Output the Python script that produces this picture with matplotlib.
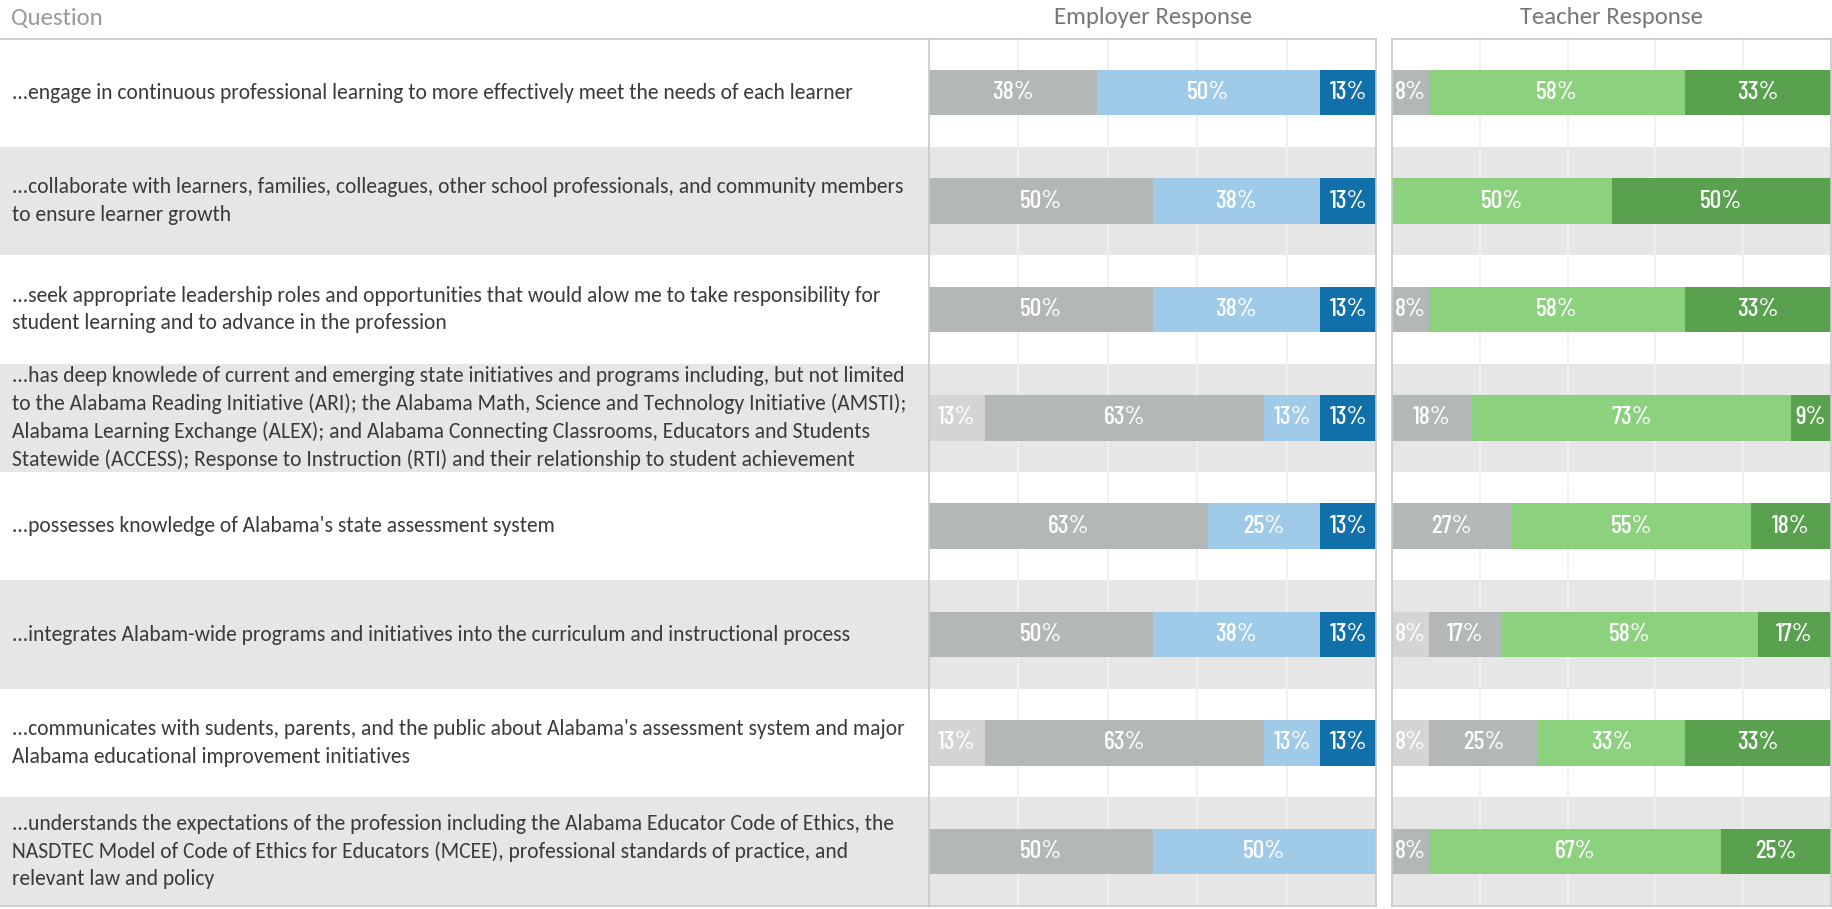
import matplotlib
matplotlib.use('Agg')
import matplotlib.pyplot as plt

# question texts, wrapped like the original
questions = [
    '...engage in continuous professional learning to more effectively meet the needs of each learner',
    '...collaborate with learners, families, colleagues, other school professionals, and community members\nto ensure learner growth',
    '...seek appropriate leadership roles and opportunities that would alow me to take responsibility for\nstudent learning and to advance in the profession',
    '...has deep knowlede of current and emerging state initiatives and programs including, but not limited\nto the Alabama Reading Initiative (ARI); the Alabama Math, Science and Technology Initiative (AMSTI);\nAlabama Learning Exchange (ALEX); and Alabama Connecting Classrooms, Educators and Students\nStatewide (ACCESS); Response to Instruction (RTI) and their relationship to student achievement',
    '...possesses knowledge of Alabama\'s state assessment system',
    '...integrates Alabam-wide programs and initiatives into the curriculum and instructional process',
    '...communicates with sudents, parents, and the public about Alabama\'s assessment system and major\nAlabama educational improvement initiatives',
    '...understands the expectations of the profession including the Alabama Educator Code of Ethics, the\nNASDTEC Model of Code of Ethics for Educators (MCEE), professional standards of practice, and\nrelevant law and policy',
]

# employer response, percent per level
emp_strongly_disagree = [0, 0, 0, 12.5, 0, 0, 12.5, 0]
emp_disagree = [37.5, 50, 50, 62.5, 62.5, 50, 62.5, 50]
emp_agree = [50, 37.5, 37.5, 12.5, 25, 37.5, 12.5, 50]
emp_strongly_agree = [12.5, 12.5, 12.5, 12.5, 12.5, 12.5, 12.5, 0]

# teacher response, percent per level
tch_strongly_disagree = [0, 0, 0, 0, 0, 8.33, 8.33, 0]
tch_disagree = [8.33, 0, 8.33, 18.18, 27.27, 16.67, 25, 8.33]
tch_agree = [58.33, 50, 58.33, 72.73, 54.55, 58.33, 33.33, 66.67]
tch_strongly_agree = [33.33, 50, 33.33, 9.09, 18.18, 16.67, 33.33, 25]

emp_colors = ['#d4d4d4', '#b3b7b8', '#a0cbe8', '#1170aa']
tch_colors = ['#d4d4d4', '#b3b7b8', '#8cd17d', '#59a14f']

band = '#e6e6e6'
frame = '#c8c8c8'
txt_font = ['Carlito', 'DejaVu Sans']
num_font = ['Barlow Condensed', 'DejaVu Sans']

W, H = 1832, 909
fig = plt.figure(figsize=(W / 100, H / 100), dpi=100)

top = 1 - 38.5 / H
bot = 1 - 905.5 / H
n = len(questions)

ax_q = fig.add_axes([0, bot, 929 / W, top - bot])
ax_e = fig.add_axes([929 / W, bot, (1376 - 929) / W, top - bot])
ax_t = fig.add_axes([1392 / W, bot, (1831 - 1392) / W, top - bot])

for ax in (ax_q, ax_e, ax_t):
    ax.set_ylim(n - 0.5, -0.5)
    ax.set_xticks([])
    ax.set_yticks([])
    for i in range(n):
        if i % 2 == 1:
            ax.axhspan(i - 0.5, i + 0.5, color=band, zorder=0, lw=0)
    for s in ax.spines.values():
        s.set_color(frame)
        s.set_linewidth(1.2)

ax_q.set_xlim(0, 929)
ax_q.spines['left'].set_visible(False)
ax_q.spines['right'].set_visible(False)
for i, q in enumerate(questions):
    ax_q.text(12, i, q, va='center', ha='left', fontsize=15.5, color='#3a3a3a',
              family=txt_font, linespacing=1.45)


def stacked(ax, levels, colors):
    ax.set_xlim(0, 100)
    for g in [20, 40, 60, 80]:
        ax.axvline(g, color='#f0f0f0', lw=1.3, zorder=1)
    y = list(range(n))
    left = [0] * n
    for vals, c in zip(levels, colors):
        ax.barh(y, vals, left=left, height=0.42, color=c, zorder=2, lw=0)
        for i, v in enumerate(vals):
            if v > 0:
                ax.text(left[i] + v / 2, i, f'{int(v + 0.5)}%', ha='center', va='center',
                        color='white', fontsize=18.5, family=num_font, weight='medium', zorder=3)
        left = [a + b for a, b in zip(left, vals)]


stacked(ax_e, [emp_strongly_disagree, emp_disagree, emp_agree, emp_strongly_agree], emp_colors)
stacked(ax_t, [tch_strongly_disagree, tch_disagree, tch_agree, tch_strongly_agree], tch_colors)

fig.text(11 / W, 1 - 18 / H, 'Question', ha='left', va='center', fontsize=17.8,
         color='#9a9a9a', family=txt_font)
fig.text((929 + 1376) / 2 / W, 1 - 18 / H, 'Employer Response', ha='center', va='center',
         fontsize=17.8, color='#777777', family=txt_font)
fig.text((1392 + 1831) / 2 / W, 1 - 18 / H, 'Teacher Response', ha='center', va='center',
         fontsize=17.8, color='#777777', family=txt_font)

fig.savefig('out.png', dpi=100, facecolor='white')
